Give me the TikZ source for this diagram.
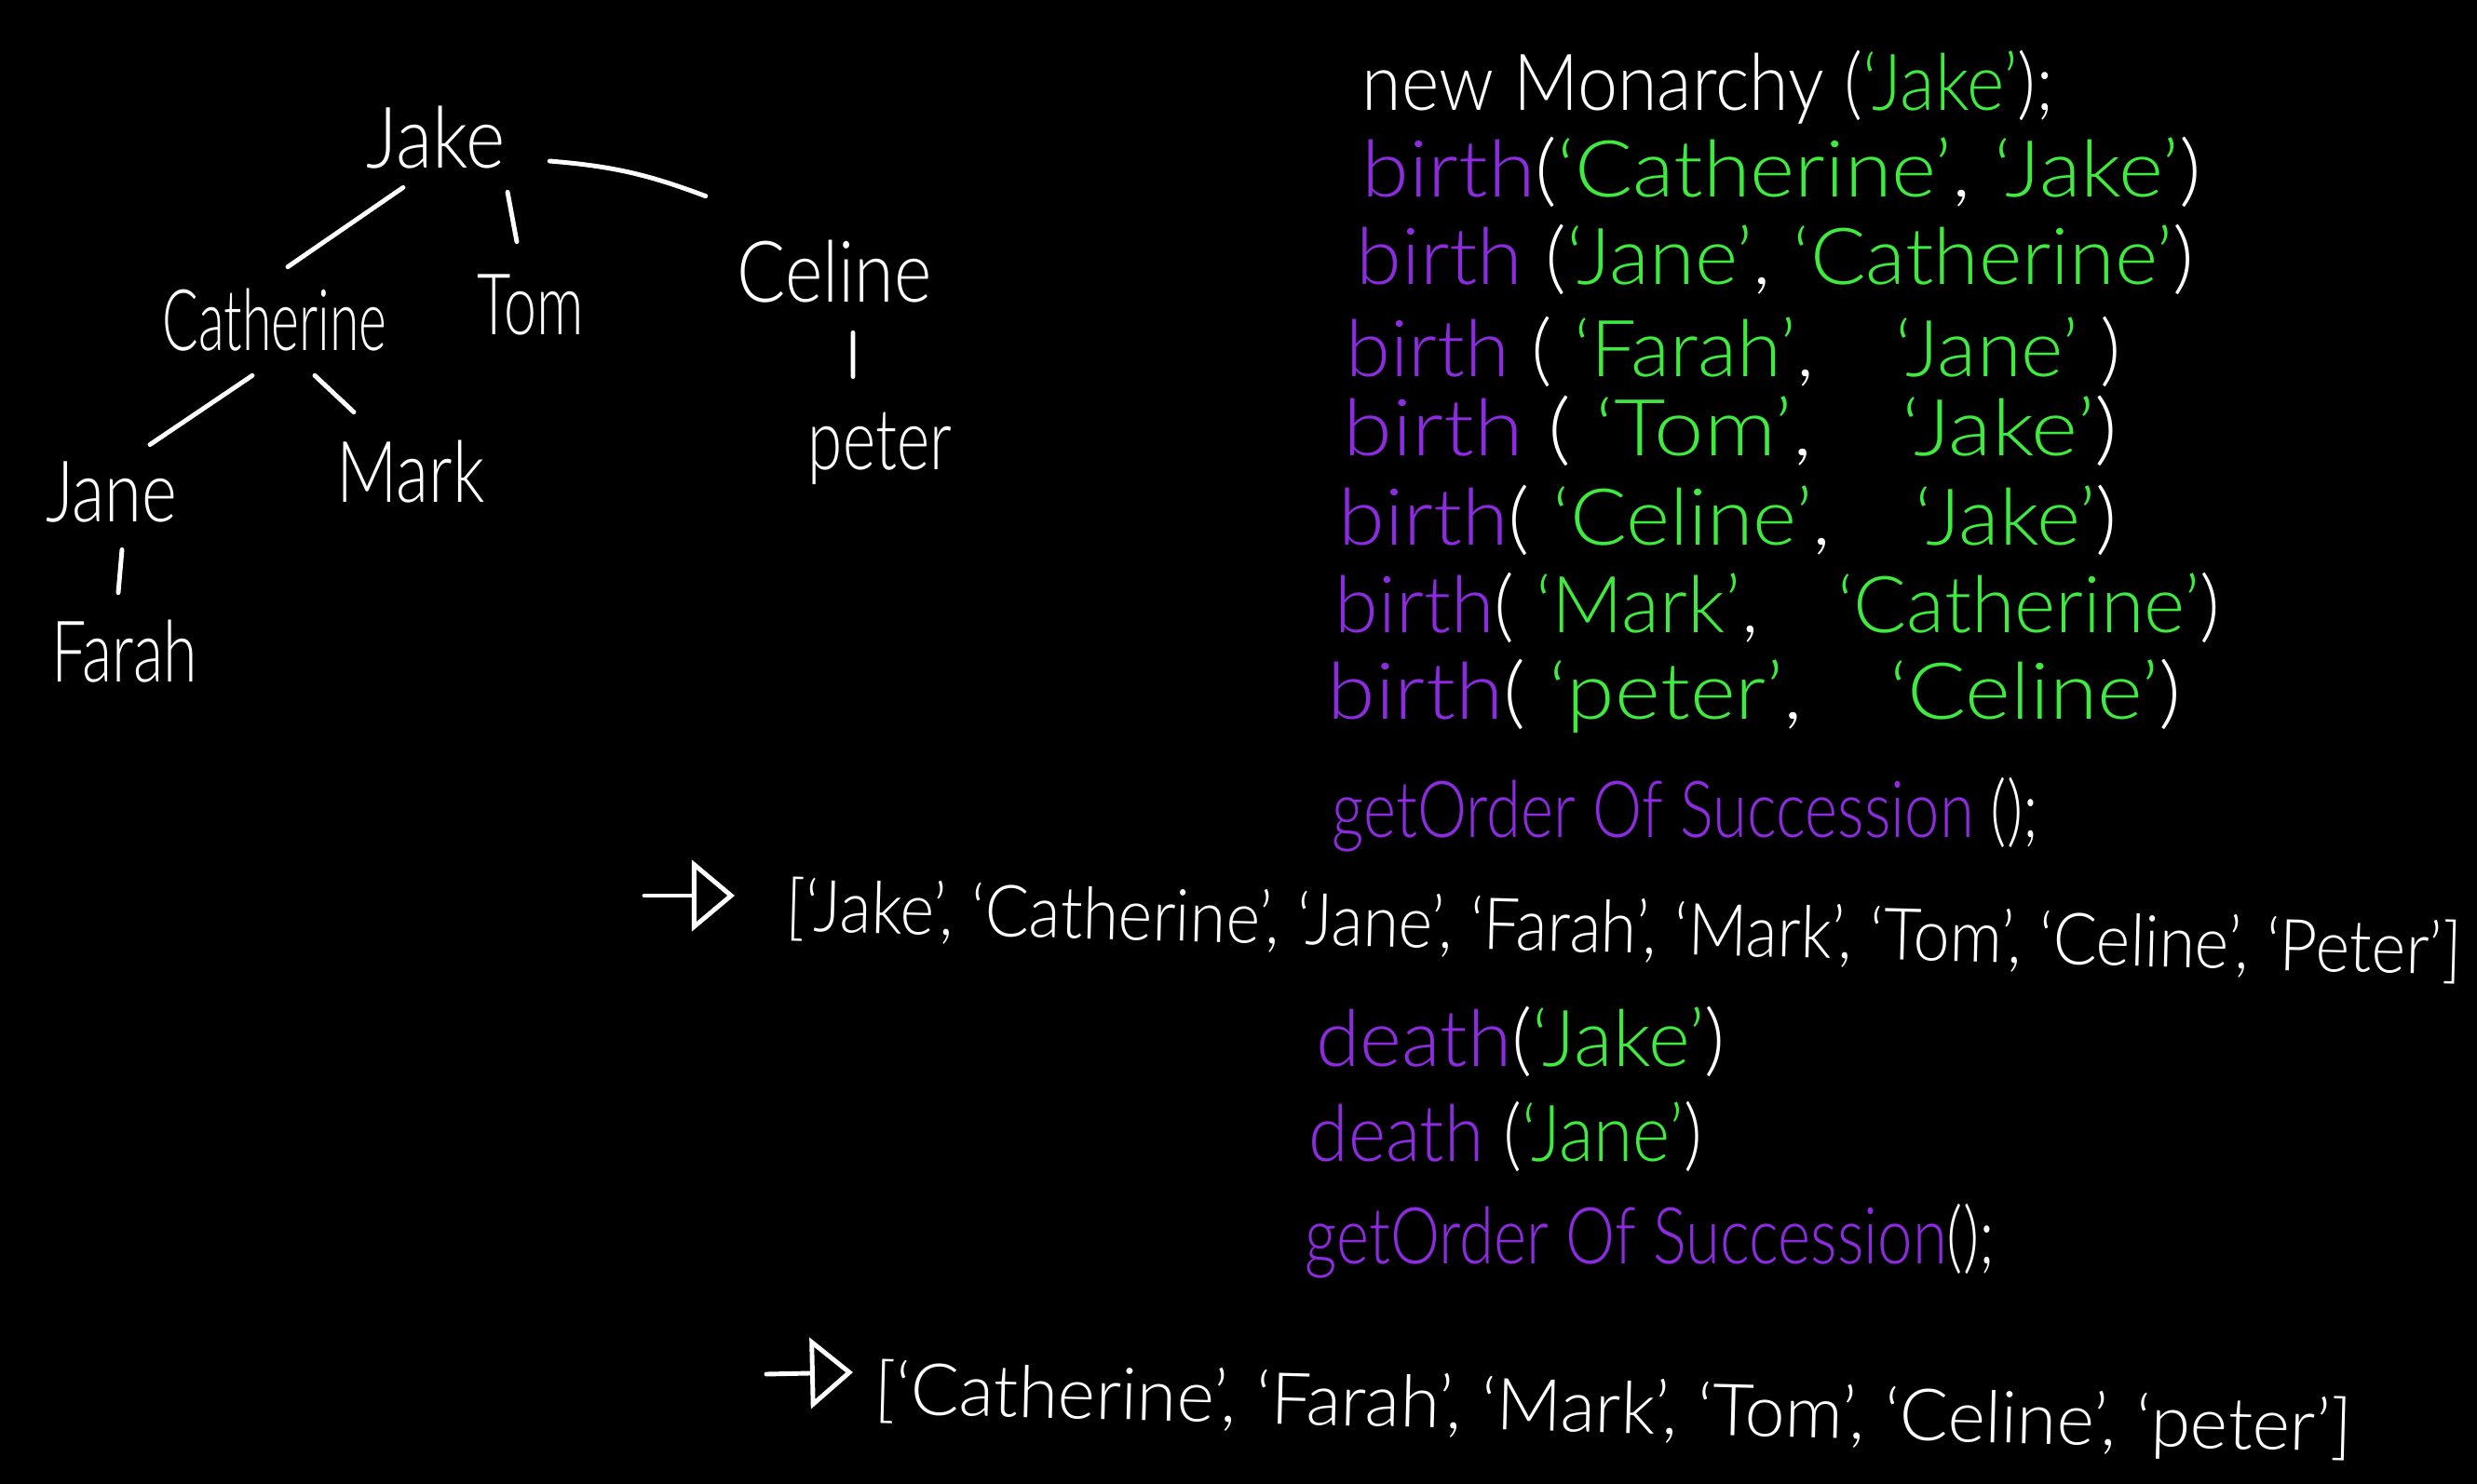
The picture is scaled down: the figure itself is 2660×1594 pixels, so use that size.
\documentclass[tikz,border=0pt]{standalone}
\usepackage{fontspec}
\IfFontExistsTF{Lato Light}{\setmainfont{Lato Light}}{\setmainfont{Liberation Sans}}
\usepackage{graphicx}
\usetikzlibrary{arrows.meta}
\definecolor{fncol}{HTML}{8C2BE0}
\definecolor{strcol}{HTML}{3EEB3E}
\newcommand\fitw[2]{\resizebox{#1}{\height}{#2}}
\newcommand\fnc[1]{\textcolor{fncol}{#1}}
\newcommand\strg[1]{\textcolor{strcol}{#1}}
\tikzset{
  hw/.style={inner sep=0pt, text=white, font=\fontsize{24}{28}\selectfont},
  treename/.style={hw, font=\fontsize{26}{30}\selectfont},
  codeline/.style={hw, anchor=base west},
  listline/.style={hw, anchor=base west, rotate=-1.5, font=\fontsize{22}{26}\selectfont},
  edge/.style={white, line width=1.4pt, line cap=round},
  resarrow/.style={white, line width=1.4pt, line cap=round, -{Triangle[open, length=0.46cm, width=0.76cm, line width=1.4pt]}}
}
\begin{document}
\begin{tikzpicture}[x=0.01cm, y=-0.01cm]
\fill[black] (0,0) rectangle (2660,1594);
\useasboundingbox (0,0) rectangle (2660,1594);

% tree
\node[treename] (jake)  at (468,148) {\fitw{1.49cm}{Jake}};
\node[treename] (cath)  at (295,344) {\fitw{2.41cm}{Catherine}};
\node[treename] (tom)   at (570,327) {\fitw{1.14cm}{Tom}};
\node[treename] (celine) at (896,292) {\fitw{2.09cm}{Celine}};
\node[treename] (jane)  at (120,529) {\fitw{1.41cm}{Jane}};
\node[treename] (mark)  at (441,507) {\fitw{1.59cm}{Mark}};
\node[treename] (farah) at (134,700) {\fitw{1.56cm}{Farah}};
\node[treename] (peter) at (945,482) {\fitw{1.54cm}{peter}};

\draw[edge] ([xshift=-0.35cm,yshift=-0.19cm]jake.south) -- ([xshift=0.14cm,yshift=0.23cm]cath.north);
\draw[edge] ([xshift=0.77cm,yshift=-0.24cm]jake.south) -- ([xshift=-0.15cm,yshift=0.34cm]tom.north);
\draw[edge] ([xshift=0.47cm,yshift=-0.25cm]jake.east) to[bend left=8] ([xshift=-0.33cm,yshift=0.47cm]celine.north west);
\draw[edge] ([xshift=-0.24cm,yshift=-0.25cm]cath.south) -- ([xshift=0.41cm,yshift=0.18cm]jane.north);
\draw[edge] ([xshift=0.43cm,yshift=-0.25cm]cath.south) -- ([xshift=-0.61cm,yshift=0.30cm]mark.north);
\draw[edge] ([xshift=0.11cm,yshift=-0.28cm]jane.south) -- ([xshift=-0.07cm,yshift=0.29cm]farah.north);
\draw[edge] ([xshift=0.20cm,yshift=-0.31cm]celine.south) -- ([xshift=-0.29cm,yshift=0.38cm]peter.north);

% code
\node[codeline] (l1) at (1462,119) {\fitw{7.43cm}{new Monarchy (\strg{‘Jake’});}};
\node[codeline] (l2) at (1462,212) {\fitw{9.01cm}{\fnc{birth}(\strg{‘Catherine’}, \strg{‘Jake’})}};
\node[codeline] (l3) at (1456,305) {\fitw{8.99cm}{\fnc{birth} (\strg{‘Jane’}, \strg{‘Catherine’})}};
\node[codeline] (l4) at (1445,404) {\fitw{8.32cm}{\fnc{birth} ( \strg{‘Farah’},\quad \strg{‘Jane’} )}};
\node[codeline] (l5) at (1442,489) {\fitw{8.31cm}{\fnc{birth} ( \strg{‘Tom’},\quad \strg{‘Jake’})}};
\node[codeline] (l6) at (1437,585) {\fitw{8.36cm}{\fnc{birth}( \strg{‘Celine’},\quad \strg{‘Jake’})}};
\node[codeline] (l7) at (1433,679) {\fitw{9.50cm}{\fnc{birth}( \strg{‘Mark’},\quad \strg{‘Catherine’})}};
\node[codeline] (l8) at (1425,772) {\fitw{9.16cm}{\fnc{birth}( \strg{‘peter’},\quad \strg{‘Celine’})}};
\node[codeline] (l9) at (1430,899) {\fitw{7.58cm}{\fnc{getOrder Of Succession} ();}};

\coordinate (a1s) at (692,962);
\coordinate (a1e) at (789,962);
\draw[resarrow] (a1s) -- (a1e);
\node[listline] (r1) at (843,1000) {\fitw{17.98cm}{[‘Jake’, ‘Catherine’, ‘Jane’, ‘Farah’, ‘Mark’, ‘Tom’, ‘Celine’, ‘Peter’]}};

\node[codeline] (l10) at (1413,1145) {\fitw{4.39cm}{\fnc{death}(\strg{‘Jake’})}};
\node[codeline] (l11) at (1405,1247) {\fitw{4.22cm}{\fnc{death} (\strg{‘Jane’})}};
\node[codeline] (l12) at (1401,1357) {\fitw{7.40cm}{\fnc{getOrder Of Succession}();}};

\coordinate (a2s) at (823,1476);
\coordinate (a2e) at (916,1474);
\draw[resarrow] (a2s) -- (a2e);
\node[listline] (r2) at (938,1518) {\fitw{15.85cm}{[‘Catherine’, ‘Farah’, ‘Mark’, ‘Tom’, ‘Celine’, ‘peter’]}};
\end{tikzpicture}
\end{document}
